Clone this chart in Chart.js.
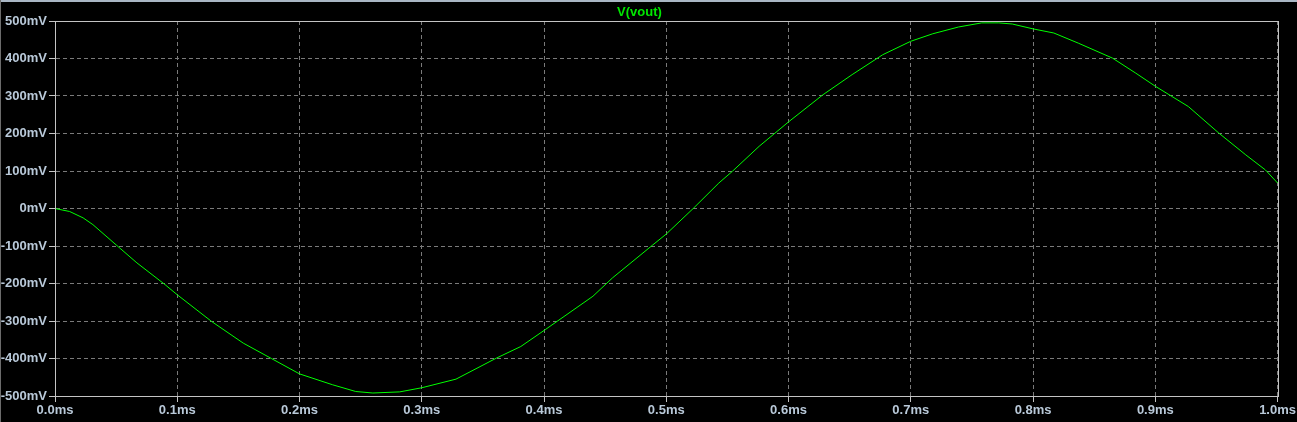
<!DOCTYPE html>
<html>
<head>
<meta charset="utf-8">
<script src="https://cdn.jsdelivr.net/npm/chart.js@4"></script>
<style>
  html, body { margin: 0; padding: 0; background: #000; overflow: hidden; }
  canvas { display: block; }
</style>
</head>
<body>
<canvas id="plot" width="1297" height="422"></canvas>
<script>
// ---- data (time in ms, V(vout) in mV) ----
const timeMs = [0, 0.012, 0.023, 0.031, 0.05, 0.067, 0.09, 0.1, 0.128, 0.154,
  0.177, 0.2, 0.227, 0.246, 0.26, 0.282, 0.3, 0.328, 0.361, 0.381,
  0.401, 0.44, 0.456, 0.489, 0.5, 0.522, 0.543, 0.554, 0.576, 0.6,
  0.628, 0.652, 0.677, 0.7, 0.718, 0.739, 0.758, 0.772, 0.783, 0.8,
  0.817, 0.837, 0.865, 0.884, 0.9, 0.927, 0.952, 0.974, 0.99, 1.0];
const voutMv = [0, -8, -25, -43, -97, -145, -203, -230, -301, -359,
  -400, -441, -470, -488, -492, -489, -478, -455, -399, -368,
  -323, -234, -185, -97, -68, 0, 68, 99, 166, 231,
  303, 357, 410, 446, 466, 484, 495, 495, 492, 479,
  468, 441, 401, 361, 326, 272, 201, 143, 103, 68];

const yTicks = [-500, -400, -300, -200, -100, 0, 100, 200, 300, 400, 500];
const xTicks = [0, 0.1, 0.2, 0.3, 0.4, 0.5, 0.6, 0.7, 0.8, 0.9, 1.0];
const traceName = "V(vout)";

const labelColor = "#b9c9d9";
const gridColor = "#7a7a7a";
const frameColor = "#c4c4c4";

// black background, window edge and solid frame round the plot area
const framePlugin = {
  id: "frame",
  beforeDraw(chart) {
    const c = chart.ctx;
    c.save();
    c.fillStyle = "#000";
    c.fillRect(0, 0, chart.width, chart.height);
    c.fillStyle = "#a9b6c4";
    c.fillRect(0, 0, chart.width, 2);
    c.fillStyle = "#6c6c6c";
    c.fillRect(0, 0, 1, chart.height);
    c.restore();
  },
  afterDraw(chart) {
    const a = chart.chartArea;
    const c = chart.ctx;
    c.save();
    c.strokeStyle = frameColor;
    c.lineWidth = 1;
    c.strokeRect(Math.round(a.left) + 0.5, Math.round(a.top) + 0.5,
      Math.round(a.right - a.left), Math.round(a.bottom - a.top));
    c.restore();
  }
};

const points = timeMs.map((t, i) => ({ x: t, y: voutMv[i] }));

new Chart(document.getElementById("plot"), {
  type: "line",
  data: {
    datasets: [{
      label: traceName,
      data: points,
      borderColor: "#00ff00",
      borderWidth: 1,
      pointRadius: 0,
      tension: 0,
      clip: false
    }]
  },
  options: {
    responsive: false,
    animation: false,
    layout: { padding: { left: 0, right: 18, top: 0, bottom: 0 } },
    plugins: {
      legend: { display: false },
      tooltip: { enabled: false },
      title: {
        display: true,
        text: traceName,
        color: "#00e600",
        font: { family: "Liberation Sans, Arial, sans-serif", size: 13, weight: "bold", lineHeight: 1 },
        padding: { top: 6, bottom: 2 }
      }
    },
    scales: {
      x: {
        type: "linear",
        min: 0,
        max: 1,
        afterBuildTicks: axis => { axis.ticks = xTicks.map(v => ({ value: v })); },
        afterFit: axis => { axis.height = 26; },
        ticks: {
          color: labelColor,
          padding: 1,
          maxRotation: 0,
          font: { family: "Liberation Sans, Arial, sans-serif", size: 13, weight: "bold" },
          callback: v => v.toFixed(1) + "ms"
        },
        grid: {
          color: gridColor,
          tickColor: frameColor,
          tickLength: 6,
          tickBorderDash: [],
          drawTicks: true
        },
        border: { color: frameColor, dash: [4, 3] }
      },
      y: {
        min: -500,
        max: 500,
        afterBuildTicks: axis => { axis.ticks = yTicks.map(v => ({ value: v })); },
        afterFit: axis => { axis.width = 55; },
        ticks: {
          color: labelColor,
          padding: 2,
          font: { family: "Liberation Sans, Arial, sans-serif", size: 13, weight: "bold" },
          callback: v => v + "mV"
        },
        grid: {
          color: gridColor,
          tickColor: frameColor,
          tickLength: 6,
          tickBorderDash: []
        },
        border: { color: frameColor, dash: [4, 3] }
      }
    }
  },
  plugins: [framePlugin]
});
</script>
</body>
</html>
